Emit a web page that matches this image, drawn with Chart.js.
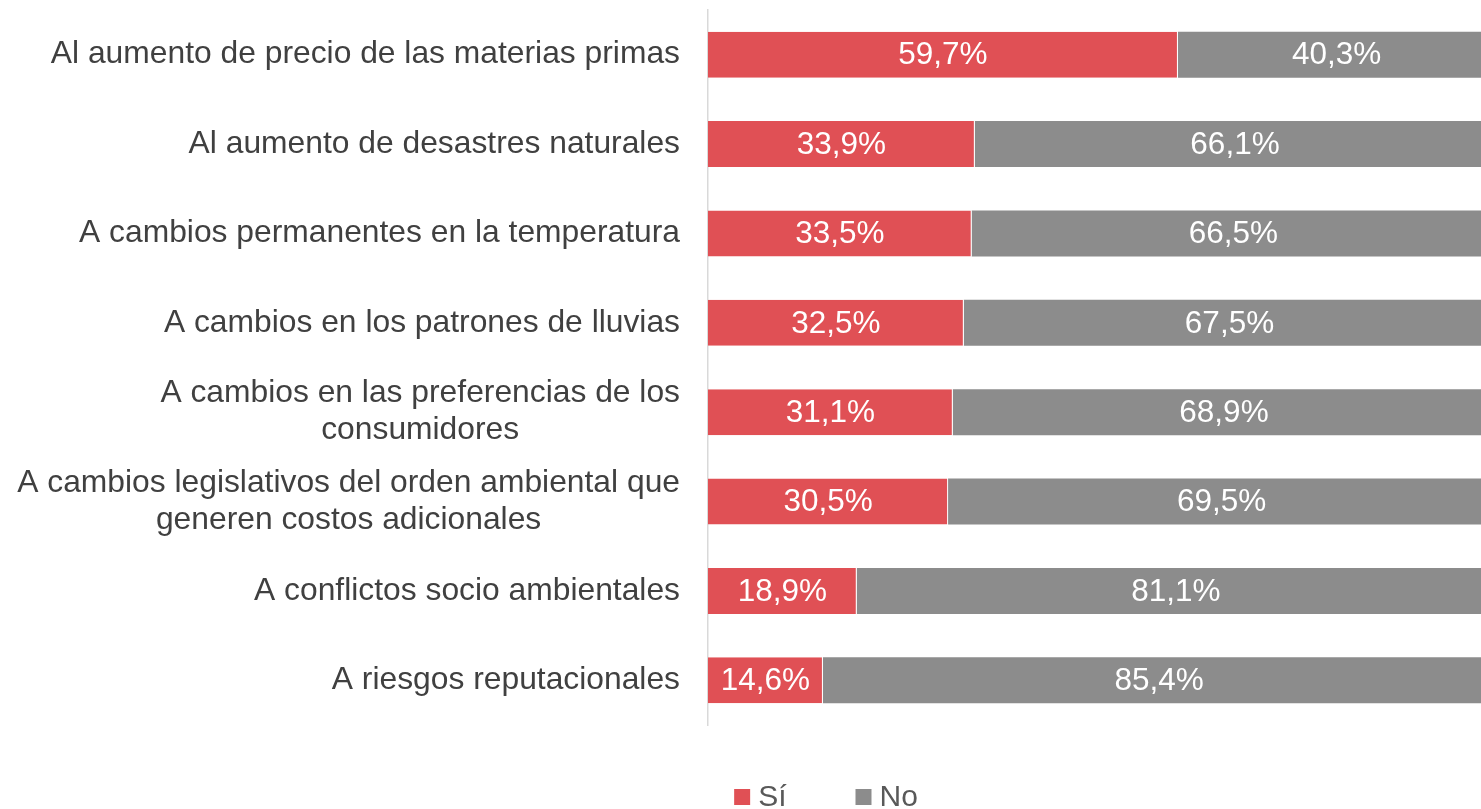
<!DOCTYPE html>
<html>
<head>
<meta charset="utf-8">
<script src="https://cdn.jsdelivr.net/npm/chart.js@4/dist/chart.umd.min.js"></script>
<style>
html,body{margin:0;padding:0;background:#fff;}
#wrap{width:1481px;height:809px;position:relative;}
</style>
</head>
<body>
<div id="wrap"><canvas id="c"></canvas></div>
<script>
const categories = [
  ["Al aumento de precio de las materias primas"],
  ["Al aumento de desastres naturales"],
  ["A cambios permanentes en la temperatura"],
  ["A cambios en los patrones de lluvias"],
  ["A cambios en las preferencias de los", "consumidores"],
  ["A cambios legislativos del orden ambiental que", "generen costos adicionales"],
  ["A conflictos socio ambientales"],
  ["A riesgos reputacionales"]
];
const siValues = [59.7, 33.9, 33.5, 32.5, 31.1, 30.5, 18.9, 14.6];
const noValues = [40.3, 66.1, 66.5, 67.5, 68.9, 69.5, 81.1, 85.4];
const seriesNames = ["Sí", "No"];
const seriesColors = ["#E05055", "#8C8C8C"];

const FONT = '"Liberation Sans", Arial, sans-serif';

const catLabelPlugin = {
  id: 'catLabels',
  afterDraw(chart) {
    const ctx = chart.ctx;
    const y = chart.scales.y;
    const rightX = chart.chartArea.left - 28;
    ctx.save();
    ctx.font = '31.8px ' + FONT;
    ctx.fillStyle = '#404040';
    ctx.textBaseline = 'middle';
    ctx.textAlign = 'center';
    const lh = 37;
    categories.forEach((lines, i) => {
      const cy = y.getPixelForValue(i);
      let maxW = 0;
      lines.forEach(l => { maxW = Math.max(maxW, ctx.measureText(l).width); });
      const cx = rightX - maxW / 2;
      const startY = cy - (lines.length - 1) * lh / 2;
      lines.forEach((l, k) => ctx.fillText(l, cx, startY + k * lh));
    });
    ctx.restore();
  }
};

const valueLabelPlugin = {
  id: 'valueLabels',
  afterDatasetsDraw(chart) {
    const ctx = chart.ctx;
    ctx.save();
    ctx.font = '31.5px ' + FONT;
    ctx.fillStyle = '#FFFFFF';
    ctx.textAlign = 'center';
    ctx.textBaseline = 'middle';
    chart.data.datasets.forEach((ds, di) => {
      const meta = chart.getDatasetMeta(di);
      meta.data.forEach((bar, i) => {
        const v = ds.data[i];
        const p = bar.getProps(['x', 'base', 'y'], true);
        const cx = (p.x + p.base) / 2;
        ctx.fillText(v.toFixed(1).replace('.', ',') + '%', cx, p.y + 1);
      });
    });
    ctx.restore();
  }
};

const legendPlugin = {
  id: 'customLegend',
  afterDraw(chart) {
    const ctx = chart.ctx;
    ctx.save();
    ctx.font = '30px ' + FONT;
    ctx.textBaseline = 'middle';
    ctx.textAlign = 'left';
    const box = 16, gapBT = 8, gapItems = 69;
    const widths = seriesNames.map(n => box + gapBT + ctx.measureText(n).width);
    const total = widths.reduce((a, b) => a + b, 0) + gapItems * (widths.length - 1);
    let x = 826 - total / 2;
    const cy = 797;
    seriesNames.forEach((n, i) => {
      ctx.fillStyle = seriesColors[i];
      ctx.fillRect(x, cy - box / 2, box, box);
      ctx.fillStyle = '#595959';
      ctx.fillText(n, x + box + gapBT, cy + 1);
      x += widths[i] + gapItems;
    });
    ctx.restore();
  }
};

new Chart(document.getElementById('c'), {
  type: 'bar',
  data: {
    labels: categories,
    datasets: [
      { label: seriesNames[0], data: siValues, backgroundColor: seriesColors[0],
        borderColor: '#FFFFFF', borderWidth: {right: 1, left: 0, top: 0, bottom: 0}, borderSkipped: false },
      { label: seriesNames[1], data: noValues, backgroundColor: seriesColors[1],
        borderWidth: 0 }
    ]
  },
  options: {
    indexAxis: 'y',
    responsive: true,
    maintainAspectRatio: false,
    animation: false,
    layout: { padding: { top: 10, right: 0, bottom: 84, left: 0 } },
    plugins: { legend: { display: false }, tooltip: { enabled: false } },
    datasets: { bar: { barPercentage: 0.515, categoryPercentage: 1 } },
    scales: {
      x: { stacked: true, min: 0, max: 98.2, display: false },
      y: {
        stacked: true,
        grid: { display: false, drawTicks: false },
        border: { display: true, color: '#D9D9D9', width: 1.5 },
        ticks: { display: false },
        afterFit(scale) { scale.width = 708; }
      }
    }
  },
  plugins: [catLabelPlugin, valueLabelPlugin, legendPlugin]
});
</script>
</body>
</html>
